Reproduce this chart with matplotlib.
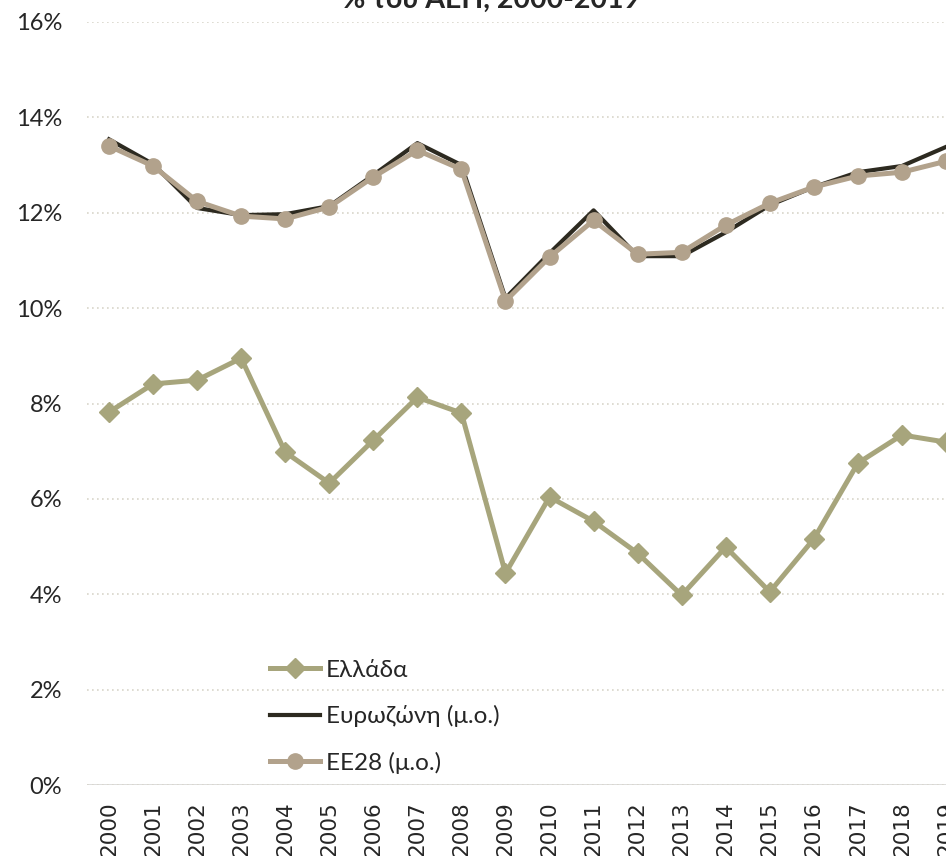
import matplotlib.pyplot as plt

years = [str(y) for y in range(2000, 2020)]

greece = [7.82, 8.41, 8.49, 8.95, 6.98, 6.33, 7.23, 8.13, 7.80, 4.44,
          6.04, 5.53, 4.86, 3.98, 4.99, 4.05, 5.16, 6.75, 7.34, 7.19]
eurozone = [13.54, 13.02, 12.10, 11.95, 11.97, 12.14, 12.79, 13.46, 13.00, 10.21,
            11.15, 12.05, 11.09, 11.09, 11.59, 12.16, 12.54, 12.85, 12.98, 13.38]
eu28 = [13.40, 12.98, 12.24, 11.93, 11.87, 12.12, 12.75, 13.31, 12.91, 10.15,
        11.07, 11.84, 11.13, 11.17, 11.74, 12.20, 12.54, 12.77, 12.85, 13.08]

labels = ["Ελλάδα", "Ευρωζώνη (μ.ο.)", "ΕΕ28 (μ.ο.)"]
yticks = [0, 2, 4, 6, 8, 10, 12, 14, 16]

c_gr = "#A7A57C"
c_ea = "#2D2A20"
c_eu = "#B2A28C"
txt = "#262626"

fam = ["Lato", "DejaVu Sans"]

fig = plt.figure(figsize=(9.46, 8.56), dpi=100)
# plot area runs past the right edge, like the cropped original
ax = fig.add_axes([87 / 946, 71 / 856, 881 / 946, 763 / 856])

x = list(range(len(years)))
l1, = ax.plot(x, greece, color=c_gr, lw=3.6, marker="D", ms=10.5, zorder=3)
l2, = ax.plot(x, eurozone, color=c_ea, lw=3.0, zorder=3)
l3, = ax.plot(x, eu28, color=c_eu, lw=3.6, marker="o", ms=11, zorder=4)

ax.set_xlim(-0.5, 19.5)
ax.set_ylim(0, 16)
ax.set_yticks(yticks)
ax.set_yticklabels([f"{v}%" for v in yticks], fontsize=17, family=fam, color=txt)
ax.set_xticks(x)
ax.set_xticklabels(years, rotation=90, fontsize=15.5, family="DejaVu Sans",
                   color=txt, va="top")
ax.tick_params(length=0)
ax.tick_params(axis="x", pad=12)
ax.tick_params(axis="y", pad=18)

for s in ax.spines.values():
    s.set_visible(False)
ax.grid(axis="y", color="#D8D5CA", ls=(0, (1, 2)), lw=1.2, zorder=0)
ax.axhline(0, color="#D9D9D9", lw=2, zorder=1)

leg = fig.legend([l1, l2, l3], labels, loc="upper left",
                 bbox_to_anchor=(248 / 946, 1 - 638 / 856), frameon=False,
                 prop={"family": fam, "size": 17.5}, handlelength=2.05,
                 handletextpad=0.25, labelspacing=1.0, labelcolor=txt)

fig.text(491 / 946, 1 - 8 / 856, "% του ΑΕΠ, 2000-2019", ha="center",
         va="baseline", fontsize=20.5, fontweight="bold", family=fam, color=txt)

fig.savefig("out.png", dpi=100)
